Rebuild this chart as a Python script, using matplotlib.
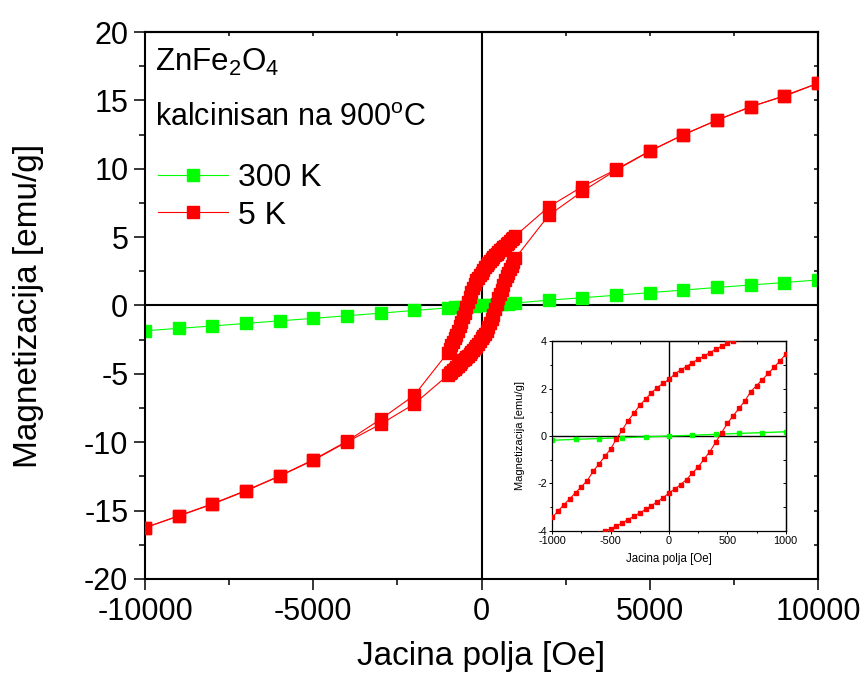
import matplotlib
matplotlib.use("Agg")
import matplotlib.pyplot as plt
from matplotlib.ticker import MultipleLocator
from matplotlib.lines import Line2D

plt.rcParams['font.family'] = ['Liberation Sans', 'DejaVu Sans']
plt.rcParams['mathtext.fontset'] = 'custom'
plt.rcParams['mathtext.rm'] = 'Liberation Sans'
plt.rcParams['mathtext.it'] = 'Liberation Sans:italic'
plt.rcParams['axes.unicode_minus'] = False

# ---- 300 K measurement ----
field_300k = [-10000, -9000, -8000, -7000, -6000, -5000, -4000, -3000, -2000,
              -1000, -800, -600, -400, -200, 0, 200, 400, 600, 800, 1000,
              2000, 3000, 4000, 5000, 6000, 7000, 8000, 9000, 10000]
mag_300k = [-1.85, -1.67, -1.50, -1.31, -1.12, -0.94, -0.75, -0.56, -0.36,
            -0.18, -0.14, -0.11, -0.07, -0.04, 0.00, 0.03, 0.07, 0.11, 0.14, 0.18,
            0.39, 0.57, 0.75, 0.94, 1.13, 1.32, 1.50, 1.68, 1.87]

# ---- 5 K loop, descending branch (+10 kOe -> -10 kOe) ----
field_5k_down = [10000, 9000, 8000, 7000, 6000, 5000, 4000, 3000, 2000,
                 1000, 950, 900, 850, 800, 750, 700, 650, 600, 550,
                 500, 450, 400, 350, 300, 250, 200, 150, 100, 50,
                 0, -50, -100, -150, -200, -250, -300, -350, -400, -450,
                 -500, -550, -600, -650, -700, -750, -800, -850, -900, -950,
                 -1000, -2000, -3000, -4000, -5000, -6000, -7000, -8000, -9000, -10000]
mag_5k_down = [16.25, 15.35, 14.52, 13.56, 12.48, 11.30, 9.95, 8.70, 7.22,
               5.08, 4.95, 4.83, 4.71, 4.60, 4.49, 4.38, 4.26, 4.15, 4.03,
               3.93, 3.79, 3.66, 3.52, 3.38, 3.24, 3.10, 2.93, 2.79, 2.62,
               2.39, 2.23, 2.04, 1.83, 1.56, 1.30, 0.97, 0.65, 0.26, -0.12,
               -0.55, -0.86, -1.18, -1.49, -1.88, -2.14, -2.39, -2.65, -2.90, -3.16,
               -3.44, -6.57, -8.32, -9.93, -11.28, -12.46, -13.53, -14.50, -15.38, -16.25]

# ---- 5 K loop, ascending branch (-10 kOe -> +10 kOe) ----
field_5k_up = [-10000, -9000, -8000, -7000, -6000, -5000, -4000, -3000, -2000,
               -1000, -950, -900, -850, -800, -750, -700, -650, -600, -550,
               -500, -450, -400, -350, -300, -250, -200, -150, -100, -50,
               0, 50, 100, 150, 200, 250, 300, 350, 400, 450,
               500, 550, 600, 650, 700, 750, 800, 850, 900, 950,
               1000, 2000, 3000, 4000, 5000, 6000, 7000, 8000, 9000, 10000]
mag_5k_up = [-16.25, -15.40, -14.53, -13.56, -12.48, -11.32, -9.98, -8.68, -7.20,
             -5.10, -4.97, -4.85, -4.73, -4.62, -4.50, -4.39, -4.27, -4.16, -4.02,
             -3.92, -3.80, -3.67, -3.53, -3.39, -3.25, -3.10, -2.94, -2.78, -2.61,
             -2.40, -2.24, -2.05, -1.84, -1.57, -1.31, -0.98, -0.66, -0.27, 0.13,
             0.54, 0.85, 1.17, 1.48, 1.87, 2.13, 2.38, 2.64, 2.90, 3.17,
             3.45, 6.60, 8.35, 9.90, 11.28, 12.50, 13.55, 14.55, 15.30, 16.25]

GREEN = '#00FF00'
RED = '#FF0000'

W, H = 863, 681
fig = plt.figure(figsize=(W / 100, H / 100), dpi=100)
fig.patch.set_facecolor('white')


def px_axes(left, top, right, bottom):
    return [left / W, 1 - bottom / H, (right - left) / W, (bottom - top) / H]


# ================= main panel =================
ax = fig.add_axes(px_axes(145, 32, 818, 579))
ax.set_xlim(-10000, 10000)
ax.set_ylim(-20, 20)

ax.axhline(0, color='black', lw=1.5, zorder=1)
ax.axvline(0, color='black', lw=1.5, zorder=1)

ax.plot(field_300k, mag_300k, color=GREEN, lw=0.8, marker='s', ms=8.2,
        mec=GREEN, mfc=GREEN, zorder=2)
ax.plot(field_5k_down, mag_5k_down, color=RED, lw=0.8, marker='s', ms=9,
        mec=RED, mfc=RED, zorder=3)
ax.plot(field_5k_up, mag_5k_up, color=RED, lw=0.8, marker='s', ms=9,
        mec=RED, mfc=RED, zorder=3)

ax.xaxis.set_major_locator(MultipleLocator(5000))
ax.xaxis.set_minor_locator(MultipleLocator(2500))
ax.yaxis.set_major_locator(MultipleLocator(5))
ax.yaxis.set_minor_locator(MultipleLocator(2.5))
ax.tick_params(which='major', direction='out', length=8, width=1.1,
               labelsize=22, colors='black')
ax.tick_params(which='minor', direction='out', length=4.3, width=1.1)
ax.tick_params(axis='x', which='major', pad=5)
ax.tick_params(axis='y', which='major', pad=4)
for s in ax.spines.values():
    s.set_linewidth(1.5)

# mirrored inward ticks on top and right
top = ax.secondary_xaxis('top')
top.xaxis.set_major_locator(MultipleLocator(2500))
top.tick_params(direction='in', length=3, width=1.1, labeltop=False)
right = ax.secondary_yaxis('right')
right.yaxis.set_major_locator(MultipleLocator(2.5))
right.tick_params(direction='in', length=3, width=1.1, labelright=False)
top.spines['top'].set_linewidth(1.5)
right.spines['right'].set_linewidth(1.5)

ax.set_xlabel('Jacina polja [Oe]', fontsize=24)
ax.xaxis.set_label_coords(0.5, -0.114)
ax.set_ylabel('Magnetizacija [emu/g]', fontsize=24)
ax.yaxis.set_label_coords(-0.150, 0.5)

fig.text(155 / W, 1 - 70.5 / H, r'ZnFe$\mathregular{_2}$O$\mathregular{_4}$',
         fontsize=22.5, ha='left', va='baseline')
fig.text(155 / W, 1 - 126 / H, r'kalcinisan na 900$\mathregular{^o}$C',
         fontsize=22, ha='left', va='baseline')

handles = [Line2D([], [], color=GREEN, lw=0.8, marker='s', ms=8.2, mec=GREEN, mfc=GREEN),
           Line2D([], [], color=RED, lw=0.8, marker='s', ms=9, mec=RED, mfc=RED)]
ax.legend(handles, ['300 K', '5 K'], loc='upper left',
          bbox_to_anchor=(158 / W, 1 - 163 / H), bbox_transform=fig.transFigure,
          frameon=False, fontsize=23, borderpad=0, borderaxespad=0,
          handlelength=2.2, handletextpad=0.3, labelspacing=0.24)

# ================= inset: low-field region =================
ins = fig.add_axes(px_axes(552.3, 341.3, 785.7, 530.7))
ins.set_facecolor('white')
ins.set_xlim(-1000, 1000)
ins.set_ylim(-4, 4)
ins.axhline(0, color='black', lw=1.0, zorder=1)
ins.axvline(0, color='black', lw=1.0, zorder=1)
ins.plot(field_300k, mag_300k, color=GREEN, lw=1.0, marker='s', ms=3.0,
         mec=GREEN, mfc=GREEN, zorder=2)
ins.plot(field_5k_down, mag_5k_down, color=RED, lw=0.8, marker='s', ms=2.6,
         mec=RED, mfc=RED, zorder=3)
ins.plot(field_5k_up, mag_5k_up, color=RED, lw=0.8, marker='s', ms=2.6,
         mec=RED, mfc=RED, zorder=3)

ins.xaxis.set_major_locator(MultipleLocator(500))
ins.xaxis.set_minor_locator(MultipleLocator(250))
ins.yaxis.set_major_locator(MultipleLocator(2))
ins.yaxis.set_minor_locator(MultipleLocator(1))
ins.tick_params(which='major', direction='out', length=2.5, width=0.7,
                labelsize=7.8, pad=1.5)
ins.tick_params(which='minor', direction='out', length=1.5, width=0.7)
for s in ins.spines.values():
    s.set_linewidth(0.9)
itop = ins.secondary_xaxis('top')
itop.xaxis.set_major_locator(MultipleLocator(250))
itop.tick_params(direction='in', length=2, width=0.7, labeltop=False)
iright = ins.secondary_yaxis('right')
iright.yaxis.set_major_locator(MultipleLocator(1))
iright.tick_params(direction='in', length=2, width=0.7, labelright=False)
itop.spines['top'].set_linewidth(0.9)
iright.spines['right'].set_linewidth(0.9)

ins.set_xlabel('Jacina polja [Oe]', fontsize=8.3)
ins.xaxis.set_label_coords(0.5, -0.118)
ins.set_ylabel('Magnetizacija [emu/g]', fontsize=8.0)
ins.yaxis.set_label_coords(-0.117, 0.5)

fig.savefig('out.png', dpi=100, facecolor='white')
